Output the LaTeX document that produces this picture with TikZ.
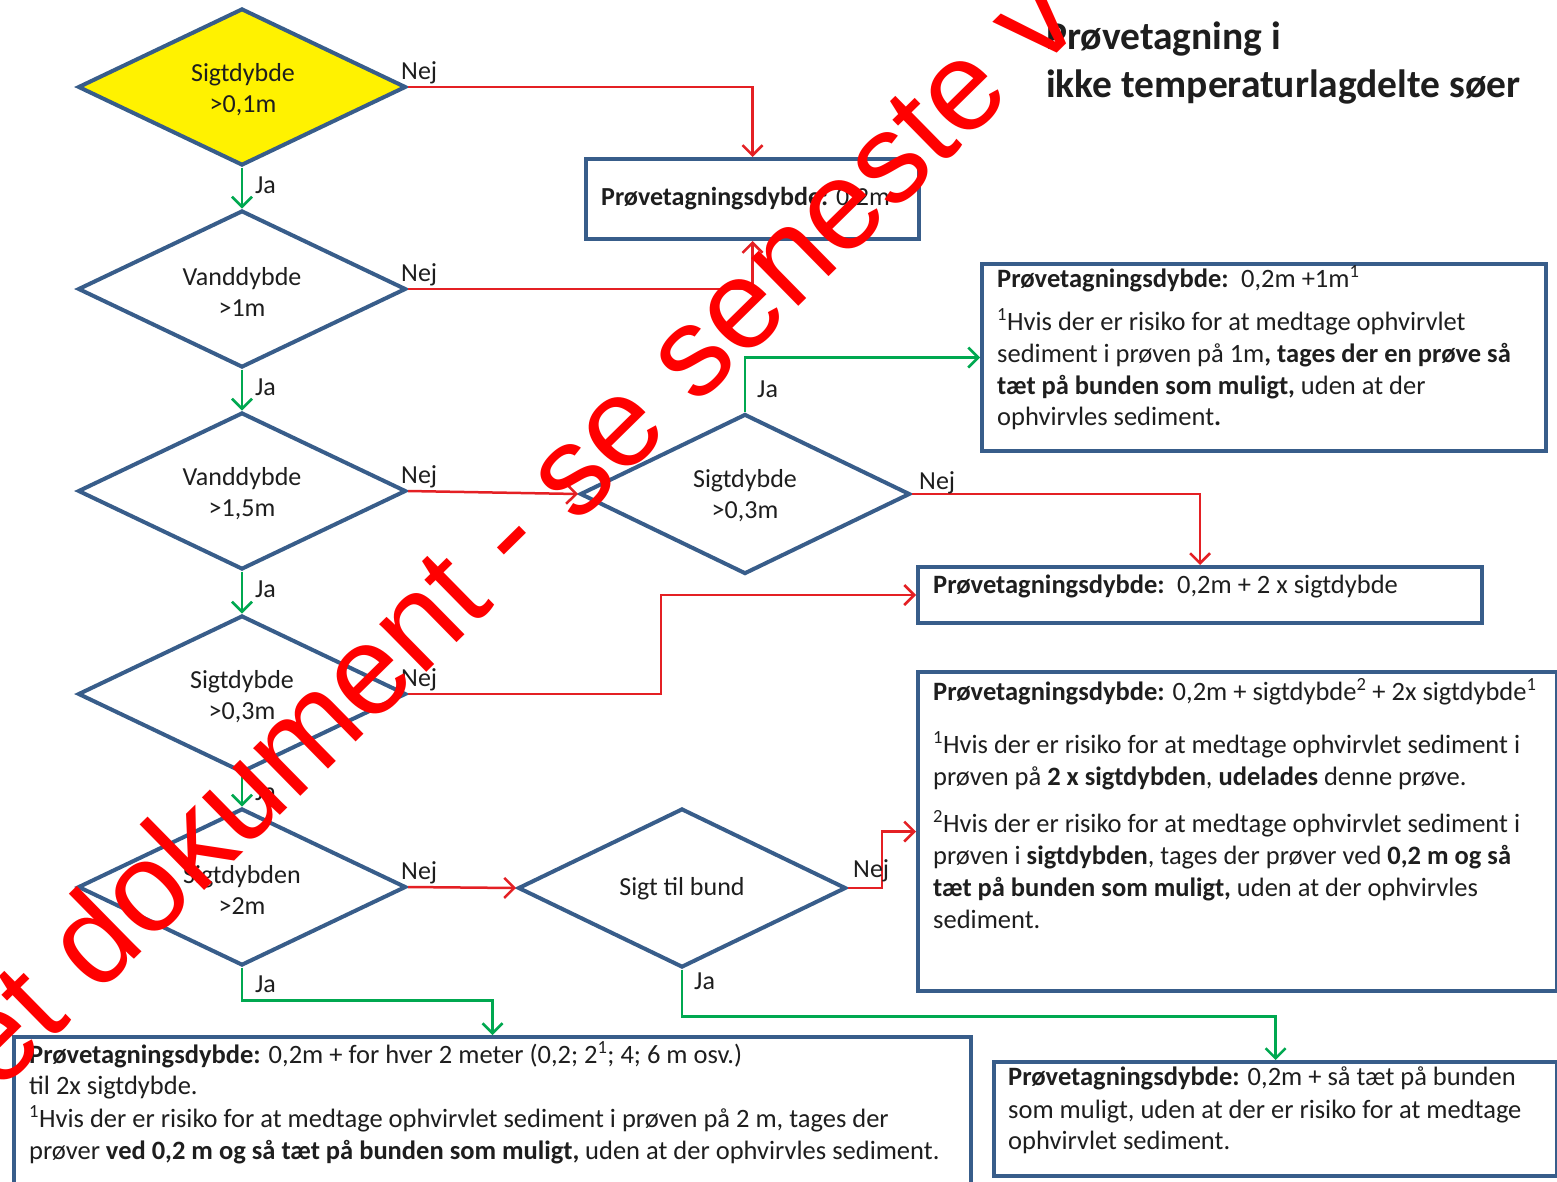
\documentclass[tikz,border=0pt]{standalone}
\usepackage{fontspec}
\setmainfont{Carlito}
\newfontfamily\wmfont{Liberation Sans}
\usetikzlibrary{shapes.geometric,arrows.meta,calc}
\definecolor{outl}{HTML}{385D8A}
\definecolor{nejred}{RGB}{228,32,36}
\definecolor{jagreen}{RGB}{0,168,80}
\definecolor{wmred}{RGB}{255,0,0}
\definecolor{txt}{RGB}{30,30,30}
\newcommand\boxline[4]{\node[bl] (#1) at (#2,#3) {#4};}
\begin{document}
\begin{tikzpicture}[x=1pt,y=-1pt,
  every node/.style={font=\fontsize{26}{31}\selectfont, text=txt},
  dec/.style={diamond, draw=outl, line width=4pt, minimum width=328pt, minimum height=157pt, inner sep=0pt, fill=white},
  dtxt/.style={align=center, inner sep=0pt},
  box/.style={rectangle, draw=outl, line width=4pt, inner sep=0pt, anchor=north west},
  bl/.style={anchor=base west, inner sep=0pt, font=\fontsize{26.5}{32}\selectfont},
  lbl/.style={anchor=base west, inner sep=0pt},
  nejarr/.style={draw=nejred, line width=2.5pt, -{Straight Barb[length=10pt,width=20pt,line width=2.5pt]}},
  jaarr/.style={draw=jagreen, line width=2.5pt, -{Straight Barb[length=10pt,width=20pt,line width=2.5pt]}},
]
\useasboundingbox (0,0) rectangle (1557,1181);
\clip (0,0) rectangle (1557,1181);
\fill[white] (0,0) rectangle (1557,1181);

% decisions
\node[dec, fill=yellow] (d1) at (242,87) {};
\node[dec] (d2) at (242,289) {};
\node[dec] (d3) at (242,491) {};
\node[dec] (d4) at (242,694) {};
\node[dec] (d5) at (242,887) {};
\node[dec, minimum width=330pt, minimum height=160pt] (d6) at (745,494) {};
\node[dec, minimum height=159pt] (d7) at (682,888) {};
\node[dtxt] (d1t) at ($(d1.center)+(1,2.5)$) {Sigtdybde\\>0,1m};
\node[dtxt] (d2t) at ($(d2.center)+(0,2.5)$) {Vanddybde\\>1m};
\node[dtxt] (d3t) at ($(d3.center)+(0,2.5)$) {Vanddybde\\>1,5m};
\node[dtxt] (d4t) at ($(d4.center)+(0,2.5)$) {Sigtdybde\\>0,3m};
\node[dtxt] (d5t) at ($(d5.center)+(0,2.5)$) {Sigtdybden\\>2m};
\node[dtxt] (d6t) at ($(d6.center)+(0,2)$) {Sigtdybde\\>0,3m};
\node[dtxt] (d7t) at ($(d7.center)+(0,1)$) {Sigt til bund};

% boxes
\node[box, minimum width=333pt, minimum height=80pt] (b1) at (584,157) {};
\node[box, minimum width=564pt, minimum height=187pt] (b2) at (980,262) {};
\node[box, minimum width=564pt, minimum height=56pt] (b3) at (916,565) {};
\node[box, minimum width=639pt, minimum height=319pt] (b4) at (916,670) {};
\node[box, minimum width=957pt, minimum height=170pt] (b5) at (12,1035) {};
\node[box, minimum width=563pt, minimum height=114pt] (b6) at (992,1060) {};

% box texts
\node[bl, font=\fontsize{26}{31}\selectfont] (b1a) at (601,205) {\textbf{Prøvetagningsdybde:} 0,2m};
\boxline{b2a}{997}{287}{\textbf{Prøvetagningsdybde:}\, 0,2m +1m\textsuperscript{1}}
\boxline{b2b}{997}{330}{\textsuperscript{1}Hvis der er risiko for at medtage ophvirvlet}
\boxline{b2c}{997}{362}{sediment i prøven på 1m\textbf{, tages der en prøve så}}
\boxline{b2d}{997}{394}{\textbf{tæt på bunden som muligt,} uden at der}
\boxline{b2e}{997}{425}{ophvirvles sediment\textbf{.}}
\boxline{b3a}{933}{593}{\textbf{Prøvetagningsdybde:}\, 0,2m + 2 x sigtdybde}
\boxline{b4a}{933}{700}{\textbf{Prøvetagningsdybde:} 0,2m + sigtdybde\textsuperscript{2} + 2x sigtdybde\textsuperscript{1}}
\boxline{b4b}{933}{753}{\textsuperscript{1}Hvis der er risiko for at medtage ophvirvlet sediment i}
\boxline{b4c}{933}{785}{prøven på \textbf{2 x sigtdybden}, \textbf{udelades} denne prøve.}
\boxline{b4d}{933}{832}{\textsuperscript{2}Hvis der er risiko for at medtage ophvirvlet sediment i}
\boxline{b4e}{933}{864}{prøven i \textbf{sigtdybden}, tages der prøver ved \textbf{0,2 m og så}}
\boxline{b4f}{933}{896}{\textbf{tæt på bunden som muligt,} uden at der ophvirvles}
\boxline{b4g}{933}{928}{sediment.}
\boxline{b5a}{29}{1063}{\textbf{Prøvetagningsdybde:} 0,2m + for hver 2 meter (0,2; 2\textsuperscript{1}; 4; 6 m osv.)}
\boxline{b5b}{29}{1094}{til 2x sigtdybde.}
\boxline{b5c}{29}{1127}{\textsuperscript{1}Hvis der er risiko for at medtage ophvirvlet sediment i prøven på 2 m, tages der}
\boxline{b5d}{29}{1159}{prøver \textbf{ved 0,2 m og så tæt på bunden som muligt,} uden at der ophvirvles sediment.}
\boxline{b6a}{1008}{1085}{\textbf{Prøvetagningsdybde:} 0,2m + så tæt på bunden}
\boxline{b6b}{1008}{1118}{som muligt, uden at der er risiko for at medtage}
\boxline{b6c}{1008}{1149}{ophvirvlet sediment.}

% title
\node[anchor=base west, inner sep=0pt, font=\bfseries\fontsize{39.5}{48}\selectfont] (t1) at (1046,49) {Prøvetagning i};
\node[anchor=base west, inner sep=0pt, font=\bfseries\fontsize{39.5}{48}\selectfont] (t2) at (1046,97) {ikke temperaturlagdelte søer};

% connectors
\draw[jaarr] (d1.south) -- (d2.north);
\draw[jaarr] (d2.south) -- (d3.north);
\draw[jaarr] (d3.south) -- (d4.north);
\draw[jaarr] (d4.south) -- (d5.north);
\draw[nejarr] (d1.east) -| (b1.north);
\draw[nejarr] (d2.east) -| (b1.south);
\draw[nejarr] (d3.east) -- (d6.west);
\draw[jaarr] (d6.north) |- (b2.west);
\draw[nejarr] (d6.east) -| (b3.north);
\draw[nejarr] (d4.east) -- ++(253,0) |- (b3.west);
\draw[nejarr] (d5.east) -- (d7.west);
\draw[nejarr] (d7.east) -- ++(34,0) |- (b4.west);
\draw[jaarr] (d5.south) -- ++(0,33) -| (b5.north);
\draw[jaarr] (d7.south) -- ++(0,47) -| (b6.north);

% labels
\node[lbl] (n1) at ($(d1.east)+(-7,-8)$) {Nej};
\node[lbl] (n2) at ($(d2.east)+(-7,-8)$) {Nej};
\node[lbl] (n3) at ($(d3.east)+(-7,-8)$) {Nej};
\node[lbl] (n4) at ($(d4.east)+(-7,-8)$) {Nej};
\node[lbl] (n5) at ($(d5.east)+(-7,-8)$) {Nej};
\node[lbl] (n6) at ($(d6.east)+(7,-5)$) {Nej};
\node[lbl] (n7) at ($(d7.east)+(5,-11)$) {Nej};
\node[lbl] (j1) at ($(d1.south)+(13,26)$) {Ja};
\node[lbl] (j2) at ($(d2.south)+(13,26)$) {Ja};
\node[lbl] (j3) at ($(d3.south)+(13,26)$) {Ja};
\node[lbl] (j4) at ($(d4.south)+(13,26)$) {Ja};
\node[lbl] (j5) at ($(d5.south)+(13,25)$) {Ja};
\node[lbl] (j6) at ($(d6.north)+(12,-15)$) {Ja};
\node[lbl] (j7) at ($(d7.south)+(12,20)$) {Ja};

% watermark
\node[rotate=44.5, anchor=base, inner sep=0pt, text=wmred, font=\wmfont\fontsize{127}{127}\selectfont] (wm) at (541,560) {et dokument - se seneste v};
\end{tikzpicture}
\end{document}
